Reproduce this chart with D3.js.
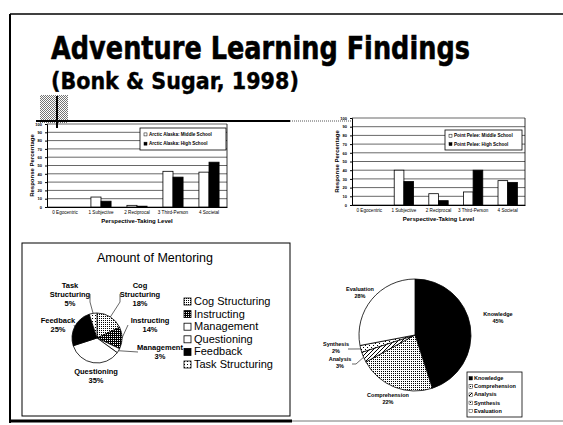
<!DOCTYPE html>
<html>
<head>
<meta charset="utf-8">
<script src="https://cdn.jsdelivr.net/npm/d3@7"></script>
<style>
  body { margin: 0; background: #fff; }
  svg { display: block; }
  text { font-family: "Liberation Sans", Arial, sans-serif; fill: #000; }
</style>
</head>
<body>
<svg width="563" height="425"></svg>
<script>
// ---- data ----
const levels = ["0 Egocentric", "1 Subjective", "2 Reciprocal", "3 Third-Person", "4 Societal"];
const yTicks = [0, 10, 20, 30, 40, 50, 60, 70, 80, 90, 100];

const arcticSeries = ["Arctic Alaska: Middle School", "Arctic Alaska: High School"];
const arcticMiddle = [0, 12, 2, 43, 42];
const arcticHigh = [0, 7, 1, 36, 54];

const pointSeries = ["Point Pelee: Middle School", "Point Pelee: High School"];
const pointMiddle = [0, 40, 13, 15, 28];
const pointHigh = [0, 27, 5, 40, 26];

const mentoringLabels = ["Cog Structuring", "Instructing", "Management", "Questioning", "Feedback", "Task Structuring"];
const mentoringValues = [18, 14, 3, 35, 25, 5];

const bloomLabels = ["Knowledge", "Comprehension", "Analysis", "Synthesis", "Evaluation"];
const bloomValues = [45, 22, 3, 2, 28];

const svg = d3.select('svg');
const defs = svg.append('defs');

// small bitmap-like fill patterns, like the fax copy
function makePattern(id, size, dots, dark) {
  const p = defs.append('pattern')
    .attr('id', id)
    .attr('patternUnits', 'userSpaceOnUse')
    .attr('width', size).attr('height', size);
  p.append('rect').attr('width', size).attr('height', size).attr('fill', dark ? '#000' : '#fff');
  dots.forEach(d => {
    p.append('rect').attr('x', d[0]).attr('y', d[1]).attr('width', 1).attr('height', 1)
      .attr('fill', dark ? '#fff' : '#000');
  });
}
makePattern('pCog', 2, [[0, 0]], false);
makePattern('pInstr', 2, [[0, 0]], true);
makePattern('pTask', 3, [[1, 1]], false);
makePattern('pComp', 2, [[0, 0]], false);
makePattern('pAnal', 4, [[0, 0], [2, 2], [1, 3], [3, 1]], false);
makePattern('pSynth', 4, [[0, 0], [2, 2]], false);
makePattern('pGrey', 2, [[0, 0], [1, 1]], false);

const mentoringFills = ['url(#pCog)', 'url(#pInstr)', '#fff', '#fff', '#000', 'url(#pTask)'];
const bloomFills = ['#000', 'url(#pComp)', 'url(#pAnal)', 'url(#pSynth)', '#fff'];

// ---- slide frame and title ----
svg.append('line').attr('x1', 10).attr('x2', 563).attr('y1', 14).attr('y2', 14).attr('stroke', '#000').attr('stroke-width', 1.5);
svg.append('line').attr('x1', 10).attr('x2', 10).attr('y1', 14).attr('y2', 423).attr('stroke', '#000').attr('stroke-width', 2);
svg.append('line').attr('x1', 10).attr('x2', 292).attr('y1', 421).attr('y2', 421).attr('stroke', '#000').attr('stroke-width', 3);
svg.append('line').attr('x1', 292).attr('x2', 563).attr('y1', 421).attr('y2', 421).attr('stroke', '#777').attr('stroke-width', 1);

// squeeze the wide DejaVu bold into the width the slide font takes
function fitTitle(str, x, y, size, width, stroke) {
  const t = svg.append('text').attr('x', 0).attr('y', 0)
    .style('font-family', '"DejaVu Sans", Verdana, sans-serif')
    .style('font-weight', 'bold').style('font-size', size + 'px')
    .style('stroke', '#000').style('stroke-width', stroke)
    .text(str);
  const k = width / t.node().getComputedTextLength();
  t.attr('transform', `translate(${x},${y}) scale(${k},1)`);
}
fitTitle('Adventure Learning Findings', 51, 59, 32, 419, 0.6);
fitTitle('(Bonk & Sugar, 1998)', 51, 89, 23, 248, 0.4);

// the grey scan blotch and rule under the title
svg.append('rect').attr('x', 40).attr('y', 95).attr('width', 28).attr('height', 28).attr('fill', 'url(#pGrey)').attr('opacity', 0.55);
svg.append('line').attr('x1', 57).attr('x2', 57).attr('y1', 96).attr('y2', 128).attr('stroke', '#000').attr('stroke-width', 2);
svg.append('line').attr('x1', 36).attr('x2', 290).attr('y1', 121).attr('y2', 121).attr('stroke', '#000').attr('stroke-width', 2);
svg.append('line').attr('x1', 290).attr('x2', 352).attr('y1', 121).attr('y2', 121)
  .attr('stroke', '#555').attr('stroke-width', 1).attr('stroke-dasharray', '1,1');

// ---- grouped bar charts ----
function barChart(cfg) {
  const g = svg.append('g');
  const x = d3.scaleBand().domain(levels).range([cfg.left, cfg.right]).paddingInner(0.44).paddingOuter(0.22);
  const xs = d3.scaleBand().domain([0, 1]).range([0, x.bandwidth()]);
  const y = d3.scaleLinear().domain([0, 100]).range([cfg.bottom, cfg.top]);

  // grid lines and frame
  g.selectAll('.grid').data(yTicks).join('line')
    .attr('x1', cfg.left).attr('x2', cfg.right)
    .attr('y1', d => y(d)).attr('y2', d => y(d))
    .attr('stroke', '#000').attr('stroke-width', 0.6);
  g.append('line').attr('x1', cfg.right).attr('x2', cfg.right).attr('y1', cfg.top).attr('y2', cfg.bottom)
    .attr('stroke', '#000').attr('stroke-width', 0.8);

  // y axis
  const yAxis = g.append('g').attr('transform', `translate(${cfg.left},0)`)
    .call(d3.axisLeft(y).tickValues(yTicks).tickSize(2).tickPadding(3));
  yAxis.selectAll('text').style('font-size', '4px').style('font-weight', 'bold');
  yAxis.selectAll('path,line').attr('stroke', '#000');

  // legend box (white, covers the grid)
  const lg = g.append('g');
  lg.append('rect').attr('x', cfg.legend[0]).attr('y', cfg.legend[1])
    .attr('width', cfg.legend[2]).attr('height', cfg.legend[3])
    .attr('fill', '#fff').attr('stroke', '#000').attr('stroke-width', 0.8);
  cfg.series.forEach((name, i) => {
    const ly = cfg.legend[1] + cfg.legend[3] * (i === 0 ? 0.36 : 0.78);
    lg.append('rect').attr('x', cfg.legend[0] + 4).attr('y', ly - 3).attr('width', 3).attr('height', 3)
      .attr('fill', i === 0 ? '#fff' : '#000').attr('stroke', '#000').attr('stroke-width', 0.5);
    lg.append('text').attr('x', cfg.legend[0] + 9).attr('y', ly)
      .style('font-size', '4.6px').style('font-weight', 'bold').text(name);
  });

  // bars
  const rows = levels.map((lv, i) => ({ lv, vals: [cfg.middle[i], cfg.high[i]] }));
  const grp = g.selectAll('.cat').data(rows).join('g')
    .attr('transform', d => `translate(${x(d.lv)},0)`);
  grp.selectAll('rect').data(d => d.vals).join('rect')
    .attr('x', (d, i) => xs(i)).attr('width', xs.bandwidth())
    .attr('y', d => y(d)).attr('height', d => y(0) - y(d))
    .attr('fill', (d, i) => i === 0 ? '#fff' : '#000')
    .attr('stroke', '#000').attr('stroke-width', 0.8);

  // x axis
  const xAxis = g.append('g').attr('transform', `translate(0,${cfg.bottom})`)
    .call(d3.axisBottom(x).tickSize(0).tickPadding(4));
  xAxis.select('.domain').attr('stroke', '#000').attr('stroke-width', 1);
  xAxis.selectAll('text').style('font-size', '4.6px');

  g.append('text').attr('x', (cfg.left + cfg.right) / 2).attr('y', cfg.bottom + 16)
    .attr('text-anchor', 'middle').style('font-size', '6px').style('font-weight', 'bold')
    .text('Perspective-Taking Level');
  g.append('text')
    .attr('transform', `translate(${cfg.left - 13},${(cfg.top + cfg.bottom) / 2}) rotate(-90)`)
    .attr('text-anchor', 'middle').style('font-size', '6px').style('font-weight', 'bold')
    .text('Response Percentage');
}

barChart({ left: 47, right: 227, top: 124, bottom: 207, series: arcticSeries,
  middle: arcticMiddle, high: arcticHigh, legend: [140, 128, 86, 22] });
barChart({ left: 352, right: 525, top: 118, bottom: 205, series: pointSeries,
  middle: pointMiddle, high: pointHigh, legend: [445, 130, 77, 20] });

// ---- Amount of Mentoring pie ----
const panel = svg.append('g');
panel.append('rect').attr('x', 22).attr('y', 243).attr('width', 268).attr('height', 173)
  .attr('fill', 'none').attr('stroke', '#000').attr('stroke-width', 1);
panel.append('text').attr('x', 155).attr('y', 262).attr('text-anchor', 'middle')
  .style('font-size', '12.5px').text('Amount of Mentoring');

const pie = d3.pie().sort(null).value(d => d);
const c1 = [97, 338], r1 = 25;
const arc1 = d3.arc().innerRadius(0).outerRadius(r1);
const p1 = panel.append('g').attr('transform', `translate(${c1[0]},${c1[1]})`);
const slices1 = pie(mentoringValues);
p1.selectAll('path').data(slices1).join('path')
  .attr('d', arc1)
  .attr('fill', (d, i) => mentoringFills[i])
  .attr('stroke', '#000').attr('stroke-width', 0.8);

// label placement (layout only)
const mentorLabelPos = [[140, 288], [150, 323], [160, 350], [96, 374], [58, 323], [70, 288]];
slices1.forEach((s, i) => {
  const a = (s.startAngle + s.endAngle) / 2;
  const px = c1[0] + Math.sin(a) * r1, py = c1[1] - Math.cos(a) * r1;
  const lp = mentorLabelPos[i];
  const words = mentoringLabels[i] === 'Task Structuring' ? ['Task', 'Structuring']
    : mentoringLabels[i] === 'Cog Structuring' ? ['Cog', 'Structuring'] : [mentoringLabels[i]];
  const lines = words.concat([mentoringValues[i] + '%']);
  const t = panel.append('text').attr('text-anchor', 'middle')
    .style('font-size', '7.5px').style('font-weight', 'bold');
  lines.forEach((w, k) => t.append('tspan').attr('x', lp[0]).attr('y', lp[1] + k * 9).text(w));
  // leader lines for the labels that sit away from the pie
  if (i === 0 || i === 5) {
    const lx = i === 0 ? lp[0] - 20 : lp[0] + 20;
    panel.append('path').attr('d', `M${lx},${lp[1] + 6}L${lx},${lp[1] + 14}L${px},${py}`)
      .attr('fill', 'none').attr('stroke', '#000').attr('stroke-width', 0.6);
  }
  if (i === 1 || i === 2 || i === 4) {
    const lx = i === 4 ? lp[0] + 16 : lp[0] - 22;
    panel.append('line').attr('x1', lx).attr('y1', lp[1] + 2).attr('x2', px).attr('y2', py)
      .attr('stroke', '#000').attr('stroke-width', 0.6);
  }
});

// legend
mentoringLabels.forEach((name, i) => {
  const ly = 305 + i * 12.6;
  panel.append('rect').attr('x', 184).attr('y', ly - 7).attr('width', 7).attr('height', 7)
    .attr('fill', mentoringFills[i]).attr('stroke', '#000').attr('stroke-width', 0.8);
  panel.append('text').attr('x', 194).attr('y', ly).style('font-size', '11px').text(name);
});

// ---- cognitive level pie ----
const c2 = [415, 335], r2 = 56;
const arc2 = d3.arc().innerRadius(0).outerRadius(r2);
const p2 = svg.append('g').attr('transform', `translate(${c2[0]},${c2[1]})`);
const slices2 = pie(bloomValues);
p2.selectAll('path').data(slices2).join('path')
  .attr('d', arc2)
  .attr('fill', (d, i) => bloomFills[i])
  .attr('stroke', '#000').attr('stroke-width', 0.8);

const bloomLabelPos = [[498, 316], [388, 397], [340, 361], [336, 346], [360, 291]];
slices2.forEach((s, i) => {
  const lp = bloomLabelPos[i];
  const t = svg.append('text').attr('text-anchor', 'middle')
    .style('font-size', '5.5px').style('font-weight', 'bold');
  t.append('tspan').attr('x', lp[0]).attr('y', lp[1]).text(bloomLabels[i]);
  t.append('tspan').attr('x', lp[0]).attr('y', lp[1] + 7).text(bloomValues[i] + '%');
  if (i === 2 || i === 3) {
    const a = (s.startAngle + s.endAngle) / 2;
    const px = c2[0] + Math.sin(a) * r2, py = c2[1] - Math.cos(a) * r2;
    svg.append('path').attr('d', `M${lp[0] + 12},${lp[1] + 3}L${lp[0] + 16},${lp[1] + 3}L${px},${py}`)
      .attr('fill', 'none').attr('stroke', '#000').attr('stroke-width', 0.6);
  }
});

svg.append('rect').attr('x', 467).attr('y', 372).attr('width', 55).attr('height', 45)
  .attr('fill', '#fff').attr('stroke', '#000').attr('stroke-width', 0.8);
bloomLabels.forEach((name, i) => {
  const ly = 380 + i * 8.2;
  svg.append('rect').attr('x', 469).attr('y', ly - 3.5).attr('width', 3.5).attr('height', 3.5)
    .attr('fill', bloomFills[i]).attr('stroke', '#000').attr('stroke-width', 0.4);
  svg.append('text').attr('x', 474).attr('y', ly).style('font-size', '5.5px').style('font-weight', 'bold').text(name);
});
</script>
</body>
</html>
